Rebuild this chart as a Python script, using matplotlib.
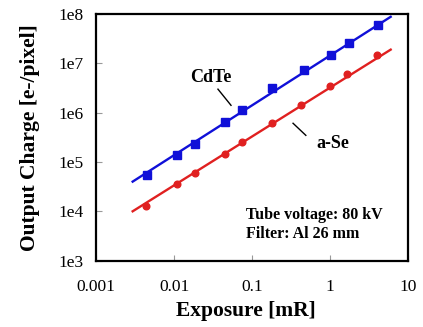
import numpy as np
import matplotlib
matplotlib.use('Agg')
import matplotlib.pyplot as plt

# data
exposure = [0.0045, 0.0109, 0.0186, 0.0455, 0.0745, 0.18, 0.469, 1.03, 1.74, 4.08]
cdte = [5.4e4, 1.4e5, 2.35e5, 6.4e5, 1.12e6, 3.1e6, 7.3e6, 1.5e7, 2.6e7, 6.0e7]
exposure_se = [0.00434, 0.0109, 0.0186, 0.0455, 0.0745, 0.18, 0.425, 1.0, 1.64, 3.98]
ase = [1.3e4, 3.5e4, 6.0e4, 1.47e5, 2.5e5, 6.2e5, 1.46e6, 3.4e6, 6.0e6, 1.5e7]

# fitted lines (end points)
fit_x = [0.00295, 6.0]
cdte_fit = [4.0e4, 8.8e7]
ase_fit = [1.0e4, 1.9e7]

xticks = [0.001, 0.01, 0.1, 1, 10]
xlabels = ['0.001', '0.01', '0.1', '1', '10']
yticks = [1e3, 1e4, 1e5, 1e6, 1e7, 1e8]
ylabels = ['1e3', '1e4', '1e5', '1e6', '1e7', '1e8']

plt.rcParams['font.family'] = ['Liberation Serif', 'DejaVu Serif']

fig = plt.figure(figsize=(4.23, 3.27), dpi=100)
ax = fig.add_axes([0.227, 0.203, 0.7375, 0.754])

blue = '#1010d8'
red = '#e02020'
ax.plot(fit_x, cdte_fit, color=blue, lw=1.7)
ax.plot(fit_x, ase_fit, color=red, lw=1.7)
ax.plot(exposure, cdte, 's', color=blue, ms=6)
ax.plot(exposure_se, ase, 'o', color=red, ms=4.8)

ax.set_xscale('log')
ax.set_yscale('log')
ax.set_xlim(0.001, 10)
ax.set_ylim(1e3, 1e8)
ax.set_xticks(xticks)
ax.set_xticklabels(xlabels)
ax.set_yticks(yticks)
ax.set_yticklabels(ylabels)
ax.minorticks_off()
ax.tick_params(axis='x', direction='in', length=4, width=0.8, color='#999999',
               pad=13, labelsize=12.5)
ax.tick_params(axis='y', direction='in', length=4, width=0.8, color='#999999',
               pad=9, labelsize=12.5)
for s in ax.spines.values():
    s.set_linewidth(1.6)

ax.set_xlabel('Exposure [mR]', fontsize=15.5, fontweight='bold')
ax.xaxis.set_label_coords(0.48, -0.165)
ax.set_ylabel('Output Charge [e-/pixel]', fontsize=15.5, fontweight='bold', labelpad=13)

# labels with leader lines
ax.text(0.0298, 5.2e6, 'CdTe', fontsize=13, fontweight='bold', ha='center', va='center')
ax.plot([0.0366, 0.0538], [3.0e6, 1.41e6], color='black', lw=1)
ax.text(1.09, 2.4e5, 'a-Se', fontsize=13, fontweight='bold', ha='center', va='center')
ax.plot([0.336, 0.49], [6.1e5, 3.47e5], color='black', lw=1)

ax.text(0.0838, 5.4e3, 'Tube voltage: 80 kV\nFilter: Al 26 mm', fontsize=11.5,
        fontweight='bold', ha='left', va='center', linespacing=1.25)

fig.savefig('out.png', dpi=100)
